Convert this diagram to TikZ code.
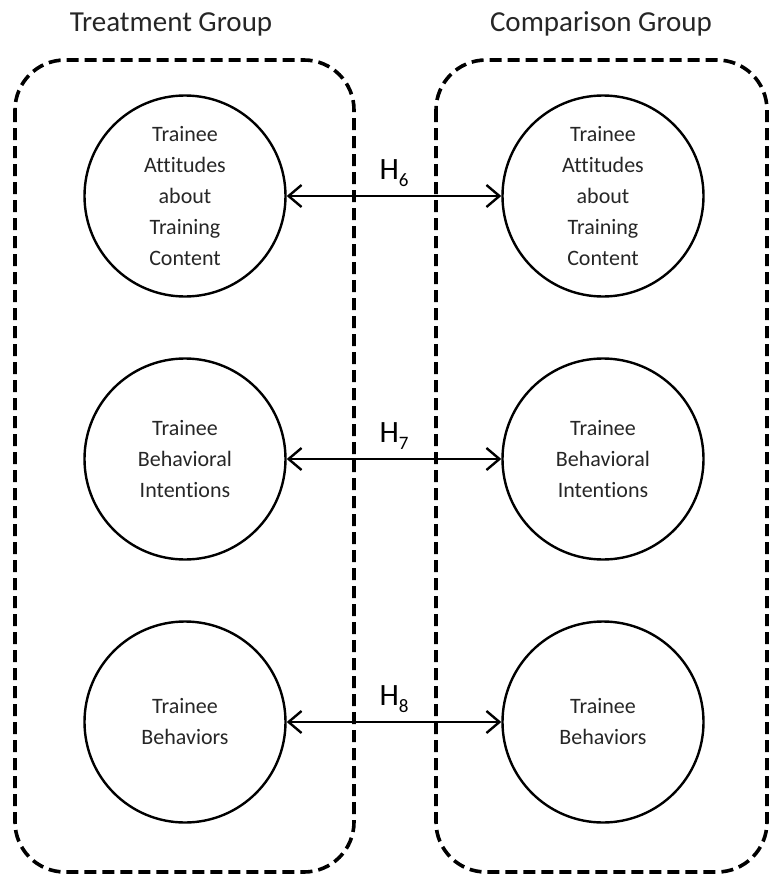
\documentclass[tikz,border=0pt]{standalone}
\usepackage{fontspec}
\setmainfont{Carlito}[Ligatures=NoCommon]
\usetikzlibrary{arrows.meta}

\begin{document}
\begin{tikzpicture}[x=1pt,y=-1pt,
  construct/.style={shape=circle,minimum size=201pt,inner sep=0pt,draw,line width=2.4pt,
    align=center,font=\fontsize{22}{31}\selectfont,text=black!85},
  grouptitle/.style={font=\fontsize{29}{34}\selectfont,text=black!85},
  groupbox/.style={draw,line width=3.6pt,dash pattern=on 12pt off 6pt,rounded corners=50pt},
  hyp/.style={line width=2.4pt,{Straight Barb[length=13pt,width=22pt]}-{Straight Barb[length=13pt,width=22pt]}}]
\useasboundingbox (0,0) rectangle (770,875);
%[groups]
\draw [groupbox] (15,60) rectangle (354,872);
\draw [groupbox] (436,60) rectangle (767,872);
\path (171,24) node (treat) [grouptitle] {Treatment Group};
\path (601,24) node (comp) [grouptitle] {Comparison Group};

\path (185,196) node (tatt) [construct] {Trainee\\Attitudes\\about\\Training\\Content};
\path (185,459) node (tint) [construct] {Trainee\\Behavioral\\Intentions};
\path (185,722) node (tbeh) [construct] {Trainee\\Behaviors};
\path (603,196) node (catt) [construct] {Trainee\\Attitudes\\about\\Training\\Content};
\path (603,459) node (cint) [construct] {Trainee\\Behavioral\\Intentions};
\path (603,722) node (cbeh) [construct] {Trainee\\Behaviors};

\newcommand{\hlabel}[1]{{\fontsize{31}{31}\selectfont H}\raisebox{-7pt}{\fontsize{19}{19}\selectfont #1}}
\draw [hyp] (tatt) -- node (h6) [midway,above=5pt] {\hlabel{6}} (catt);
\draw [hyp] (tint) -- node (h7) [midway,above=5pt] {\hlabel{7}} (cint);
\draw [hyp] (tbeh) -- node (h8) [midway,above=5pt] {\hlabel{8}} (cbeh);
\end{tikzpicture}
\end{document}
